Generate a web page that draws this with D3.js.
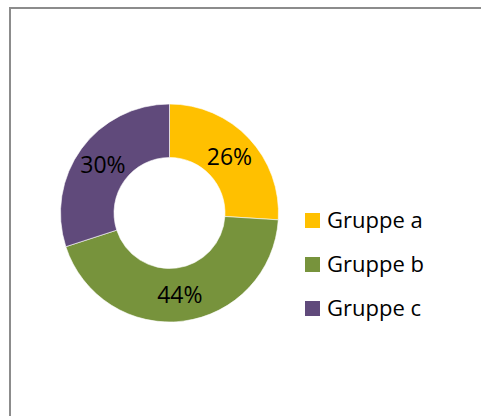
<!DOCTYPE html>
<html>
<head>
<meta charset="utf-8">
<script src="https://cdn.jsdelivr.net/npm/d3@7"></script>
<style>
  body { margin: 0; background: #fff; }
  svg { display: block; }
</style>
</head>
<body>
<svg width="481" height="416"></svg>
<script>
var groups = ["Gruppe a", "Gruppe b", "Gruppe c"];
var shares = [26, 44, 30];
var colors = ["#ffc000", "#77933c", "#604a7b"];

var svg = d3.select("svg");

// chart frame (only top and left show inside the window)
svg.append("rect")
    .attr("x", 10).attr("y", 8)
    .attr("width", 500).attr("height", 440)
    .attr("fill", "none")
    .attr("stroke", "#8c8c8c")
    .attr("stroke-width", 2);

var cx = 169.5, cy = 213,
    outerR = 109, innerR = 55.5;

var pie = d3.pie().sort(null).value(d => d);
var arc = d3.arc().innerRadius(innerR).outerRadius(outerR);

var donut = svg.append("g")
    .attr("transform", "translate(" + cx + "," + cy + ")");

var slices = pie(shares);

donut.selectAll("path")
    .data(slices)
    .enter()
        .append("path")
        .attr("d", arc)
        .attr("fill", (d, i) => colors[i])
        .attr("stroke", "#fff")
        .attr("stroke-width", 0.6);

donut.selectAll("text")
    .data(slices)
    .enter()
        .append("text")
        .attr("transform", d => "translate(" + arc.centroid(d) + ")")
        .attr("text-anchor", "middle")
        .attr("dy", "0.36em")
        .style("font-family", "'Open Sans', sans-serif")
        .style("font-size", "23px")
        .style("fill", "#000")
        .text(d => d.data + "%");

// legend
var legend = svg.append("g")
    .attr("transform", "translate(305,213)");

var items = legend.selectAll("g")
    .data(groups)
    .enter()
        .append("g")
        .attr("transform", (d, i) => "translate(0," + i * 44 + ")");

items.append("rect")
    .attr("width", 15).attr("height", 15)
    .attr("fill", (d, i) => colors[i]);

items.append("text")
    .attr("x", 22)
    .attr("y", 15)
    .style("font-family", "'Open Sans', sans-serif")
    .style("font-size", "22px")
    .style("fill", "#000")
    .text(d => d);
</script>
</body>
</html>
